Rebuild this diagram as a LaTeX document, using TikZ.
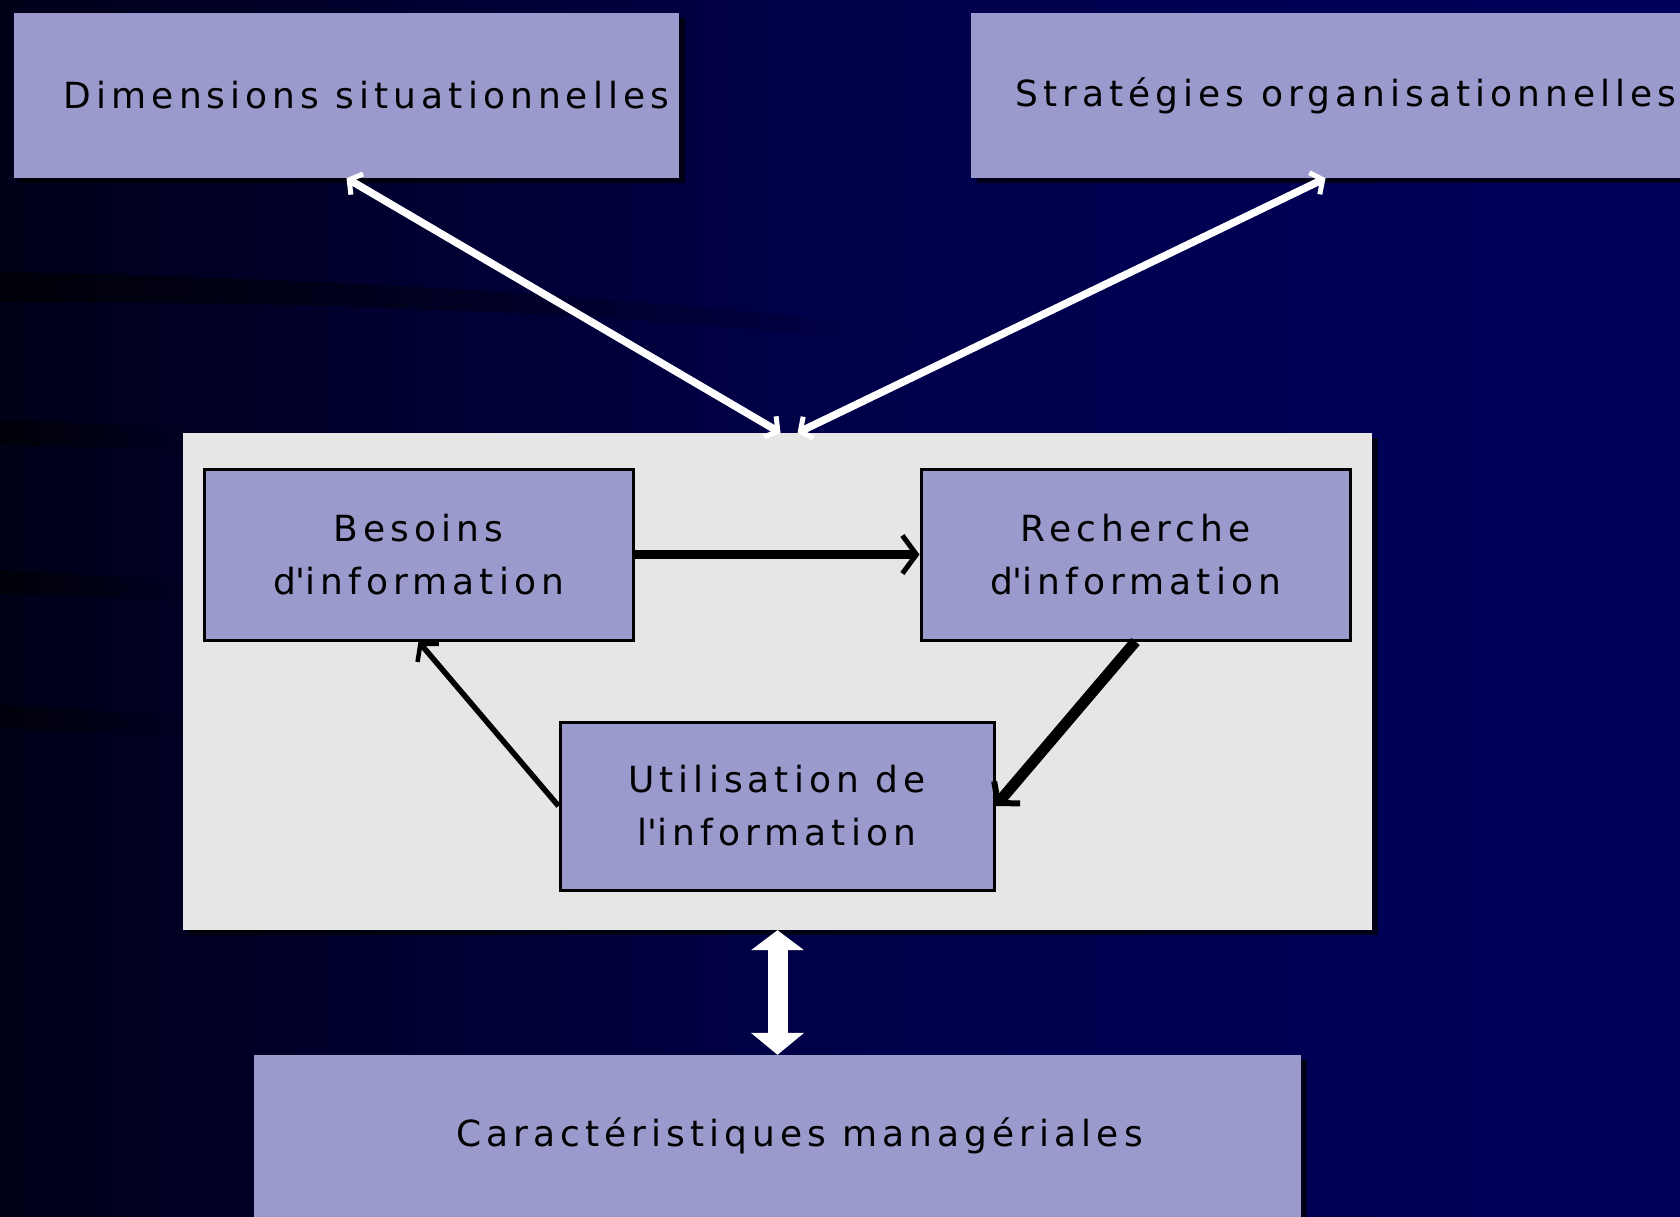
\documentclass[tikz,border=0pt]{standalone}
\usepackage{fontspec}
\newfontfamily\boxfont{DejaVu Sans}[LetterSpace=14]
\usetikzlibrary{arrows.meta,calc,shadows,fadings}
\definecolor{boxc}{HTML}{9A9ACC}
\definecolor{grayc}{HTML}{E6E6E6}
\definecolor{bgleft}{HTML}{000018}
\definecolor{bgmid}{HTML}{00004A}
\definecolor{bgright}{HTML}{00005C}
\tikzset{
  txt/.style={font=\boxfont\fontsize{36}{53}\selectfont, text=black, align=center},
  obox/.style={txt, fill=boxc, inner sep=0pt, draw=none,
    drop shadow={opacity=0.7, shadow xshift=6pt, shadow yshift=-5pt, fill=black}},
  ibox/.style={txt, fill=boxc, inner sep=0pt, draw=black, line width=3pt},
  graybox/.style={fill=grayc, inner sep=0pt, draw=none,
    drop shadow={opacity=0.7, shadow xshift=6pt, shadow yshift=-5pt, fill=black}},
  warrow/.style={white, line width=7.5pt,
    {Straight Barb[length=9pt,width=24pt,line width=5pt]}-{Straight Barb[length=9pt,width=24pt,line width=5pt]}},
  bigarrow/.style={white, line width=20pt,
    {Triangle[length=20pt,width=52pt]}-{Triangle[length=22pt,width=52pt]}}
}
\begin{document}
\begin{tikzpicture}[x=1pt,y=-1pt]
\useasboundingbox (0,0) rectangle (1680,1217);
\shade[left color=bgleft, right color=bgright, middle color=bgmid] (0,0) rectangle (1680,1217);
% dark streaks on the left
\fill[black, opacity=0.6, path fading=east] (0,272) .. controls (300,278) and (600,292) .. (920,330) -- (920,345) .. controls (600,310) and (300,302) .. (0,302) -- cycle;
\fill[black, opacity=0.6, path fading=east] (0,420) .. controls (100,423) and (160,427) .. (190,430) -- (190,452) .. controls (160,450) and (100,447) .. (0,445) -- cycle;
\fill[black, opacity=0.6, path fading=east] (0,570) .. controls (100,575) and (160,580) .. (190,583) -- (190,602) .. controls (160,600) and (100,597) .. (0,594) -- cycle;
\fill[black, opacity=0.5, path fading=east] (0,705) .. controls (100,710) and (160,715) .. (190,718) -- (190,738) .. controls (160,736) and (100,732) .. (0,728) -- cycle;

\node[obox, minimum width=665pt, minimum height=165pt] (dim) at (346.5,95.5) {\hspace*{40pt}Dimensions situationnelles};
\node[obox, minimum width=709pt, minimum height=165pt] (strat) at (1325.5,95.5) {\hspace*{41pt}Stratégies organisationnelles};
\node[graybox, minimum width=1189pt, minimum height=497pt] (cycle) at (777.5,681.5) {};
\node[ibox, minimum width=429pt, minimum height=171pt] (bes) at (418.5,554.5) {Besoins\\d\textquotesingle information};
\node[ibox, minimum width=429pt, minimum height=171pt] (rech) at (1135.5,554.5) {Recherche\\d\textquotesingle information};
\node[ibox, minimum width=434pt, minimum height=168pt] (util) at (777,806) {Utilisation de\\l\textquotesingle information};
\node[obox, minimum width=1047pt, minimum height=162pt] (car) at (777.5,1136) {\hspace*{44pt}Caractéristiques managériales};

\coordinate (in1) at ($(cycle.north)+(3,0)$);
\coordinate (in2) at ($(cycle.north)+(20,0)$);
\draw[warrow] (dim.south) -- (in1);
\draw[warrow] (strat.south) -- (in2);

\draw[black, line width=9pt, -{Straight Barb[length=14pt,width=38pt,line width=5pt]}] (bes.east) -- (rech.west);
\draw[black, line width=5.5pt, -{Straight Barb[length=12pt,width=28pt,line width=4.5pt]}] (util.west) -- (bes.south);
\draw[black, line width=11pt, -{Straight Barb[length=14pt,width=34pt,line width=6pt]}] (rech.south) -- (util.east);

\draw[bigarrow] (cycle.south) -- (car.north);
\end{tikzpicture}
\end{document}
